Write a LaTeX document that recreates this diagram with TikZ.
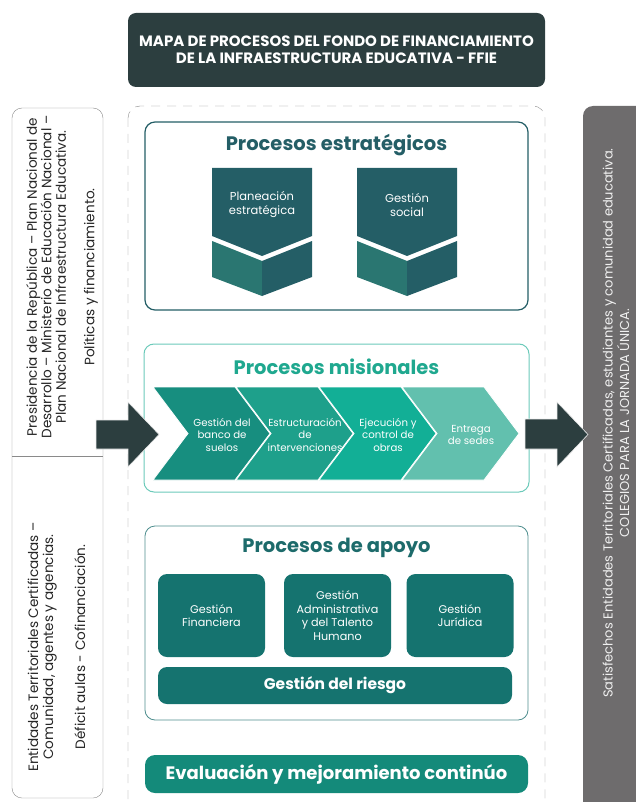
\documentclass[tikz,border=0pt]{standalone}
\usepackage{fontspec}
\setmainfont{Poppins}
\usepackage{xcolor}
\definecolor{titleColor}{HTML}{2C3E3F}
\definecolor{estColor}{HTML}{245E66}
\definecolor{estLight}{HTML}{2A7671}
\definecolor{misBorder}{HTML}{6CCABA}
\definecolor{misTitle}{HTML}{1FA88F}
\definecolor{misA}{HTML}{178E7F}
\definecolor{misB}{HTML}{1EA08B}
\definecolor{misC}{HTML}{12AF96}
\definecolor{misD}{HTML}{62C0AE}
\definecolor{apoBorder}{HTML}{4E8E8E}
\definecolor{apoTitle}{HTML}{1D6B6B}
\definecolor{apoColor}{HTML}{15736F}
\definecolor{evalColor}{HTML}{148A7A}
\definecolor{sideGray}{HTML}{6E6C6D}
\definecolor{lineGray}{HTML}{8A8A8A}

\tikzset{
  boxtitle/.style={font=\bfseries\fontsize{19.5}{22}\selectfont},
  whitetext/.style={text=white, align=center, font=\fontsize{10.2}{12.3}\selectfont},
  apobox/.style={fill=apoColor, rounded corners=9pt, minimum width=107pt, minimum height=83pt},
}

\begin{document}
\begin{tikzpicture}[x=1pt,y=-1pt]
    \useasboundingbox (0,0) rectangle (636,802);

    % Title
    \node[fill=titleColor, rounded corners=8pt, minimum width=417pt, minimum height=74pt,
          text=white, align=center, font=\bfseries\fontsize{15}{17}\selectfont] (title) at (336.5,50)
          {MAPA DE PROCESOS DEL FONDO DE FINANCIAMIENTO\\DE LA INFRAESTRUCTURA EDUCATIVA - FFIE};

    % Side boxes
    \draw[lineGray, rounded corners=10pt] (12,108) rectangle (103,798);
    \draw[lineGray] (12,456) -- (103,456);
    \fill[sideGray, rounded corners=10pt] (583,106) rectangle (650,815);
    \draw[lineGray, dashed, dash pattern=on 9pt off 7pt, rounded corners=12pt] (128,106) rectangle (545,815);

    \node[rotate=90, align=center, text=black!85, font=\fontsize{13.6}{14.5}\selectfont] (entradaA) at (62,277)
          {Presidencia de la República – Plan Nacional de\\Desarrollo – Ministerio de Educación Nacional –\\Plan Nacional de Infraestructura Educativa.\\[14pt]Políticas y financiamiento.};
    \node[rotate=90, align=center, text=black!85, font=\fontsize{13.6}{15}\selectfont] (entradaB) at (56.5,647)
          {Entidades Territoriales Certificadas –\\Comunidad, agentes y agencias.\\[17pt]Déficit aulas - Cofinanciación.};
    \node[rotate=90, align=center, text=white!88!gray, font=\fontsize{13}{12.5}\selectfont] (salida) at (616,423)
          {Satisfechos Entidades Territoriales Certificadas,  estudiantes y comunidad educativa.\\COLEGIOS PARA LA JORNADA ÚNICA.};

    % Procesos estrategicos
    \draw[estColor, line width=1.2pt, rounded corners=10pt] (145,122) rectangle (528,310);
    \node[boxtitle, text=estColor] (est) at (336.5,145) {Procesos estratégicos};
    \foreach \lx/\nm/\txt in {212/plan/{Planeación\\estratégica}, 357/social/{Gestión\\social}} {
        \fill[estColor] (\lx,168) -- (\lx+100,168) -- (\lx+100,236) -- (\lx+50,256) -- (\lx,236) -- cycle;
        \fill[estLight] (\lx,241) -- (\lx+50,261) -- (\lx+50,296) -- (\lx,277) -- cycle;
        \fill[estColor] (\lx+50,261) -- (\lx+100,241) -- (\lx+100,277) -- (\lx+50,296) -- cycle;
        \node[whitetext, font=\fontsize{11.5}{14}\selectfont] (\nm) at (\lx+50,205) {\txt};
    }

    % Procesos misionales
    \draw[misBorder, line width=1pt, rounded corners=10pt] (144,344) rectangle (529,492);
    \node[boxtitle, text=misTitle] (mis) at (336.5,367) {Procesos misionales};
    \foreach \i/\col/\txt in {0/misA/{Gestión del\\banco de\\suelos}, 1/misB/{Estructuración\\de\\intervenciones},
                              2/misC/{Ejecución y\\control de\\obras}, 3/misD/{Entrega\\de sedes}} {
        \pgfmathsetmacro\lx{153+83*\i}
        \filldraw[fill=\col, draw=white, line width=0.8pt] (\lx,387) -- (\lx+82,387) -- (\lx+117,433.5)
              -- (\lx+82,480) -- (\lx,480) -- (\lx+35,433.5) -- cycle;
        \node[whitetext] (chev\i) at (\lx+69,435) {\txt};
    }

    % Flechas
    \filldraw[fill=titleColor, draw=white!85!gray, line width=0.6pt] (96,420) -- (128,420) -- (128,402)
          -- (159,434.5) -- (128,467) -- (128,449) -- (96,449) -- cycle;
    \filldraw[fill=titleColor, draw=white!85!gray, line width=0.6pt] (525,419) -- (557,419) -- (557,402)
          -- (588,434.5) -- (557,467) -- (557,449) -- (525,449) -- cycle;

    % Procesos de apoyo
    \draw[apoBorder, line width=0.8pt, rounded corners=10pt] (145,526) rectangle (528,720);
    \node[boxtitle, text=apoTitle] (apo) at (336.5,548) {Procesos de apoyo};
    \node[apobox] (fin) at (211.5,615.5) {};
    \node[apobox] (adm) at (337.5,615.5) {};
    \node[apobox] (jur) at (460,615.5) {};
    \node[whitetext, font=\fontsize{11.2}{13.5}\selectfont] at (fin) {Gestión\\Financiera};
    \node[whitetext, font=\fontsize{11.2}{13.5}\selectfont] at (adm) {Gestión\\Administrativa\\y del Talento\\Humano};
    \node[whitetext, font=\fontsize{11.2}{13.5}\selectfont] at (jur) {Gestión\\Jurídica};
    \node[fill=apoColor, rounded corners=9pt, minimum width=354pt, minimum height=37pt,
          text=white, font=\bfseries\fontsize{15.5}{17}\selectfont] (riesgo) at (335,685.5) {Gestión del riesgo};

    % Evaluacion
    \node[fill=evalColor, rounded corners=10pt, minimum width=383pt, minimum height=38pt,
          text=white, font=\bfseries\fontsize{18}{20}\selectfont] (eval) at (336.5,774) {Evaluación y mejoramiento continúo};
\end{tikzpicture}
\end{document}
